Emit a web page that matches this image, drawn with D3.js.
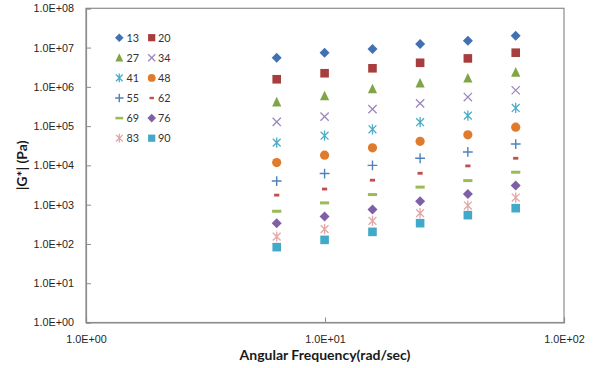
<!DOCTYPE html>
<html>
<head>
<meta charset="utf-8">
<script src="https://cdn.jsdelivr.net/npm/d3@7"></script>
<style>
  html, body { margin: 0; padding: 0; background: #ffffff; }
  svg { display: block; font-family: Lato, "Liberation Sans", sans-serif; }
</style>
</head>
<body>
<svg id="chart" width="594" height="368"></svg>
<script>
// Angular frequency (rad/s) of each measurement point
const freq = [6.28, 9.96, 15.8, 25.0, 39.6, 62.8];

// |G*| (Pa) for each test temperature
const g13 = [5.5e6, 7.4e6, 9.2e6, 1.24e7, 1.5e7, 2.0e7];
const g20 = [1.56e6, 2.22e6, 2.97e6, 4.1e6, 5.3e6, 7.4e6];
const g27 = [4.1e5, 5.9e5, 8.9e5, 1.24e6, 1.66e6, 2.35e6];
const g34 = [1.28e5, 1.75e5, 2.7e5, 3.8e5, 5.5e5, 8.2e5];
const g41 = [3.8e4, 5.7e4, 8.3e4, 1.26e5, 1.85e5, 2.9e5];
const g48 = [1.18e4, 1.82e4, 2.8e4, 4.1e4, 6.0e4, 9.4e4];
const g55 = [4.0e3, 6.2e3, 1.0e4, 1.52e4, 2.2e4, 3.5e4];
const g62 = [1.75e3, 2.5e3, 4.2e3, 6.3e3, 9.7e3, 1.52e4];
const g69 = [680, 1110, 1810, 2800, 4100, 6700];
const g76 = [338, 500, 750, 1230, 1880, 3060];
const g83 = [154, 238, 387, 608, 950, 1520];
const g90 = [83, 127, 203, 338, 541, 815];

// Series labels (temperatures)
const temps = ["13", "20", "27", "34", "41", "48", "55", "62", "69", "76", "83", "90"];

// Axis tick values
const xTicks = [1, 10, 100];
const yTicks = [1, 10, 100, 1e3, 1e4, 1e5, 1e6, 1e7, 1e8];

const seriesValues = [g13, g20, g27, g34, g41, g48, g55, g62, g69, g76, g83, g90];
const markerStyles = [
  { shape: "diamond",  color: "#4171B3" },
  { shape: "square",   color: "#A73D3D" },
  { shape: "triangle", color: "#7FA546" },
  { shape: "x",        color: "#9C88BF" },
  { shape: "star",     color: "#4BACC6" },
  { shape: "circle",   color: "#E07B2C" },
  { shape: "plus",     color: "#4F81BD" },
  { shape: "dash",     color: "#C0504D" },
  { shape: "longdash", color: "#9BBB59" },
  { shape: "diamond",  color: "#7F60A6" },
  { shape: "star",     color: "#E3A6A4" },
  { shape: "square",   color: "#42A9C8" }
];

const series = temps.map((t, i) => ({
  name: t,
  style: markerStyles[i],
  points: freq.map((f, j) => ({ x: f, y: seriesValues[i][j] }))
}));

const svg = d3.select("#chart");
const plot = { left: 86, right: 564, top: 8.3, bottom: 322.5 };

const x = d3.scaleLog().domain([1, 100]).range([plot.left, plot.right]);
const y = d3.scaleLog().domain([1, 1e8]).range([plot.bottom, plot.top]);

const fmtExp = v => {
  const e = Math.round(Math.log10(v));
  return "1.0E" + (e < 0 ? "-" : "+") + String(Math.abs(e)).padStart(2, "0");
};

// Plot frame
svg.append("rect")
  .attr("x", plot.left).attr("y", plot.top)
  .attr("width", plot.right - plot.left).attr("height", plot.bottom - plot.top)
  .attr("fill", "#ffffff").attr("stroke", "#8c8c8c").attr("stroke-width", 1.2);

// Axes: inside ticks
const xAxis = d3.axisBottom(x).tickValues(xTicks).tickSize(-5).tickFormat(fmtExp).tickPadding(11);
const yAxis = d3.axisLeft(y).tickValues(yTicks).tickSize(-5).tickFormat(fmtExp).tickPadding(12);

const gx = svg.append("g").attr("transform", `translate(0,${plot.bottom})`).call(xAxis);
const gy = svg.append("g").attr("transform", `translate(${plot.left},0)`).call(yAxis);

[gx, gy].forEach(g => {
  g.select(".domain").attr("stroke", "#8c8c8c").attr("stroke-width", 1.2);
  g.selectAll(".tick line").attr("stroke", "#8c8c8c");
  g.selectAll(".tick text").attr("fill", "#262626").attr("font-size", 10.8);
});
gx.selectAll(".tick text").attr("dy", "0.9em");

// Axis titles
svg.append("text")
  .attr("x", (plot.left + plot.right) / 2).attr("y", 360)
  .attr("text-anchor", "middle").attr("font-weight", "bold").attr("font-size", 14)
  .attr("fill", "#1a1a1a")
  .text("Angular Frequency(rad/sec)");

svg.append("text")
  .attr("transform", `translate(27,${(plot.top + plot.bottom) / 2}) rotate(-90)`)
  .attr("text-anchor", "middle").attr("font-weight", "bold").attr("font-size", 14)
  .attr("fill", "#1a1a1a")
  .text("|G*| (Pa)");

// Marker drawing
function drawMarker(g, shape, color, s) {
  const h = 4.6 * s;
  switch (shape) {
    case "diamond":
      g.append("path").attr("d", `M0,${-h - 0.4}L${h + 0.4},0L0,${h + 0.4}L${-h - 0.4},0Z`).attr("fill", color);
      break;
    case "square":
      g.append("rect").attr("x", -h + 0.3).attr("y", -h + 0.3)
        .attr("width", 2 * h - 0.6).attr("height", 2 * h - 0.6).attr("fill", color);
      break;
    case "triangle":
      g.append("path").attr("d", `M0,${-h - 0.6}L${h},${h - 0.2}L${-h},${h - 0.2}Z`).attr("fill", color);
      break;
    case "circle":
      g.append("circle").attr("r", h).attr("fill", color);
      break;
    case "x": {
      const a = h * 0.9;
      g.append("path").attr("d", `M${-a},${-a}L${a},${a}M${a},${-a}L${-a},${a}`)
        .attr("stroke", color).attr("stroke-width", 1.3).attr("fill", "none");
      break;
    }
    case "star": {
      const a = h * 0.85;
      g.append("path").attr("d", `M${-a},${-a}L${a},${a}M${a},${-a}L${-a},${a}M0,${-h - 0.5}L0,${h + 0.5}`)
        .attr("stroke", color).attr("stroke-width", 1.3).attr("fill", "none");
      break;
    }
    case "plus":
      g.append("path").attr("d", `M${-h - 0.3},0L${h + 0.3},0M0,${-h - 0.3}L0,${h + 0.3}`)
        .attr("stroke", color).attr("stroke-width", 1.4).attr("fill", "none");
      break;
    case "dash":
      g.append("rect").attr("x", -2.6 * s).attr("y", -1.4 * s)
        .attr("width", 5.2 * s).attr("height", 2.8 * s).attr("fill", color);
      break;
    case "longdash":
      g.append("rect").attr("x", -h).attr("y", -1.5 * s)
        .attr("width", 2 * h).attr("height", 3 * s).attr("fill", color);
      break;
  }
}

// Data points
const layer = svg.append("g");
series.forEach(sr => {
  sr.points.forEach(p => {
    const g = layer.append("g").attr("transform", `translate(${x(p.x)},${y(p.y)})`);
    drawMarker(g, sr.style.shape, sr.style.color, 1);
  });
});

// Legend, two columns
const legend = svg.append("g").attr("transform", "translate(119.3,37.7)");
series.forEach((sr, i) => {
  const col = i % 2, row = Math.floor(i / 2);
  const g = legend.append("g").attr("transform", `translate(${col * 32.4},${row * 20.1})`);
  drawMarker(g, sr.style.shape, sr.style.color, 0.85);
  g.append("text").attr("x", col === 0 ? 7.2 : 6.2).attr("y", 0).attr("dy", "0.36em")
    .attr("font-size", 10.8).attr("fill", "#333333").text(sr.name);
});
</script>
</body>
</html>
